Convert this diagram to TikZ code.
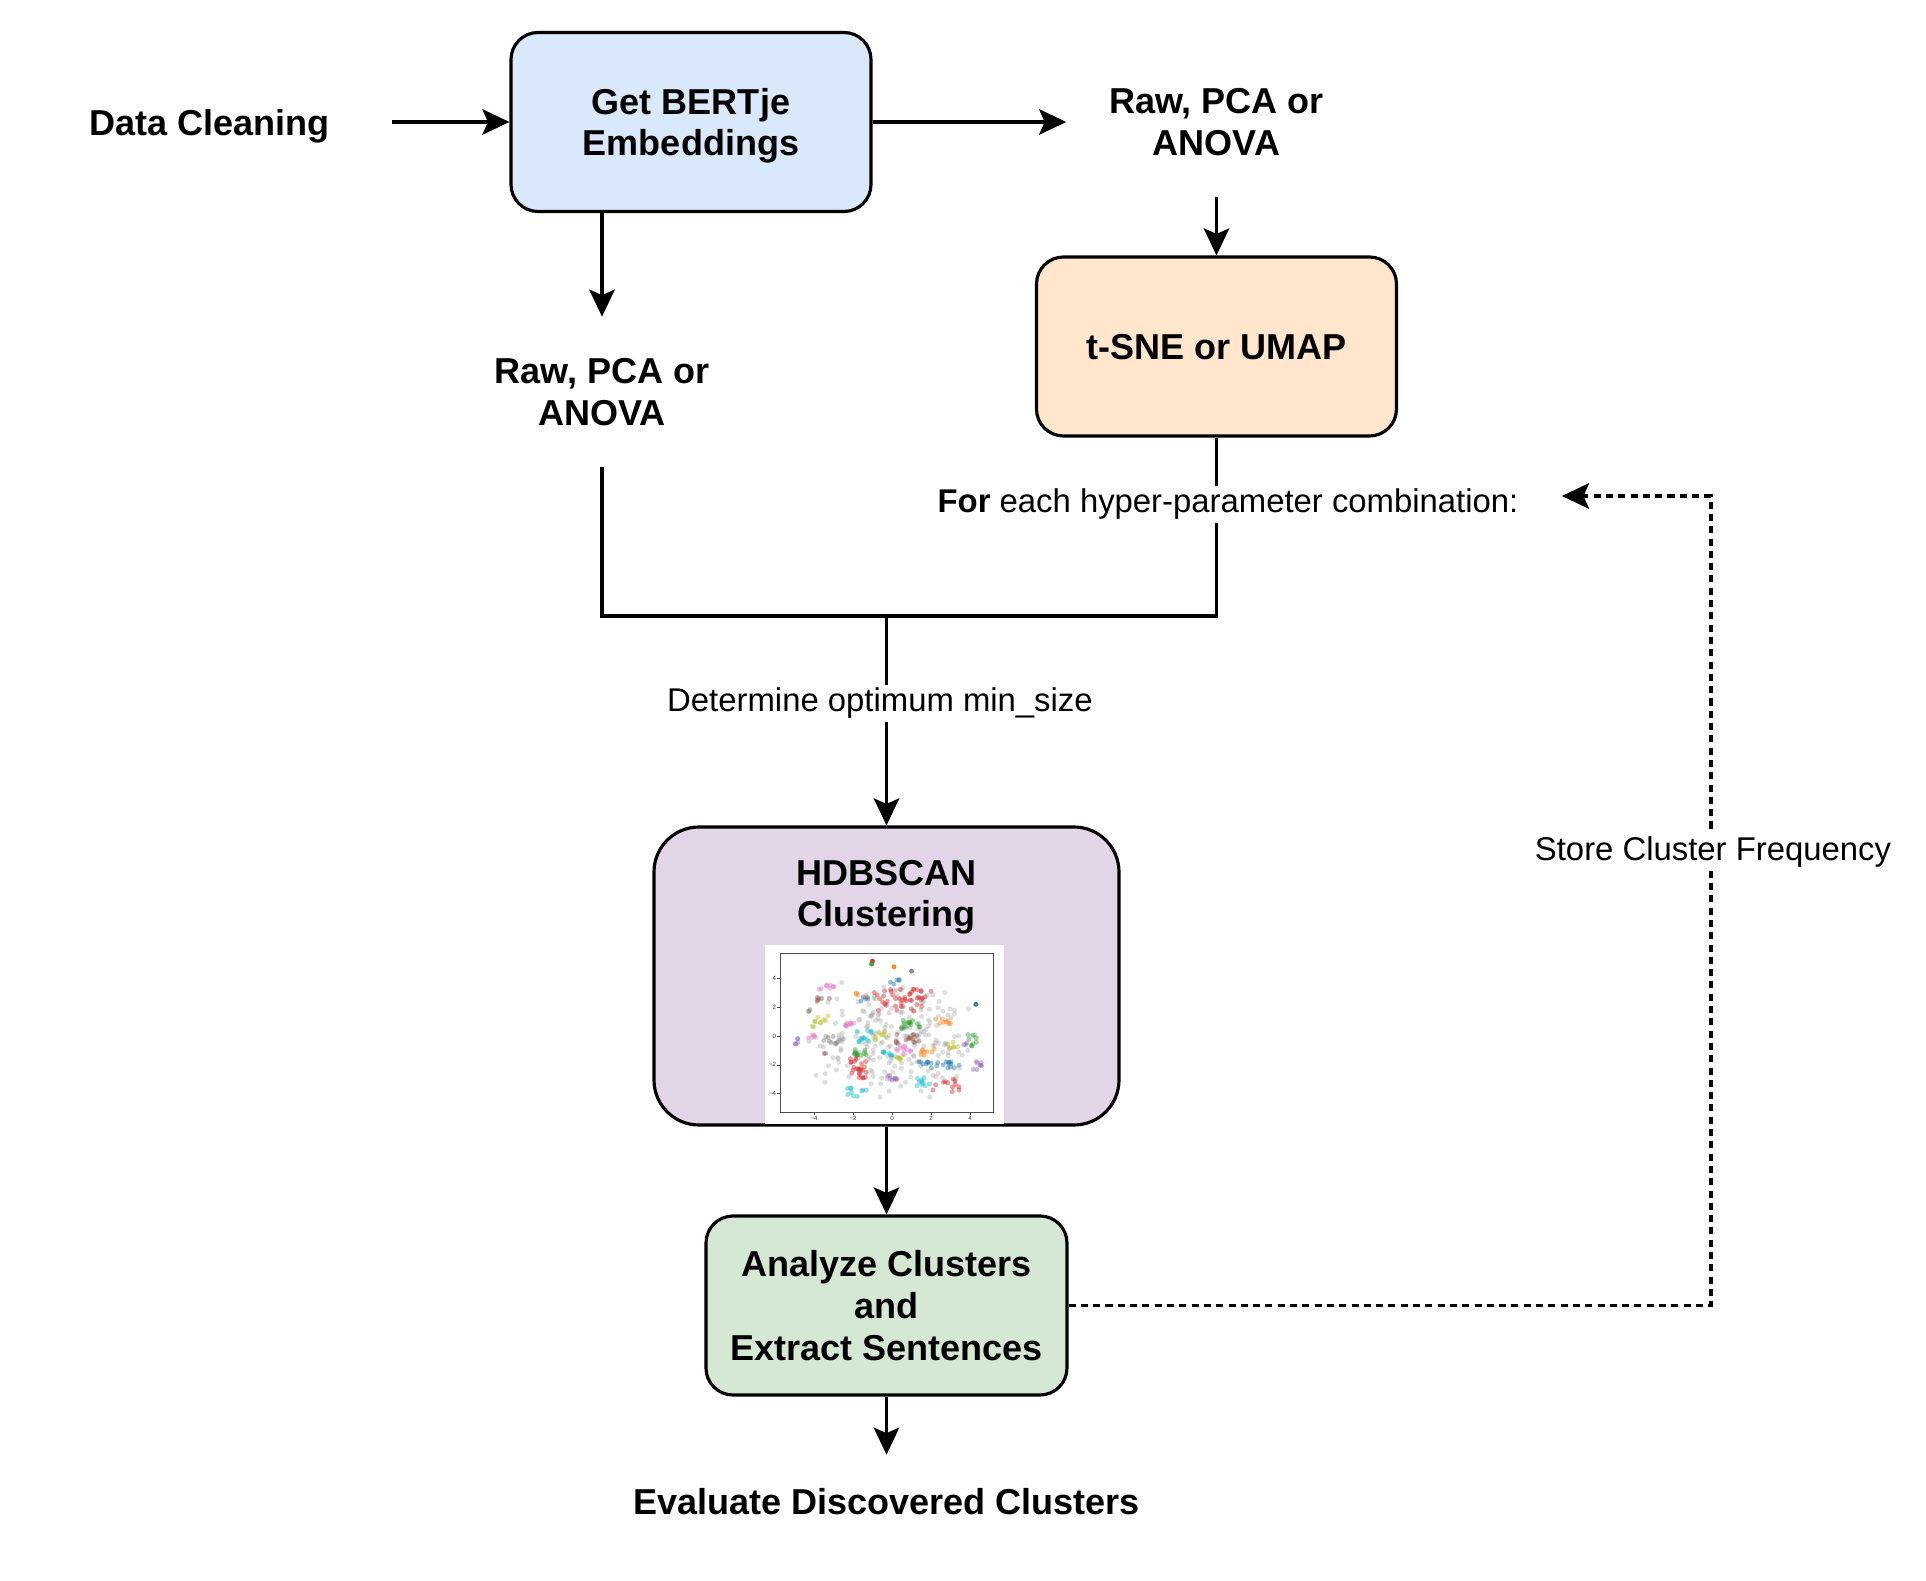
\documentclass[tikz,border=0pt]{standalone}
\usepackage{fontspec}
\setmainfont{Liberation Sans}
\usetikzlibrary{positioning,arrows.meta,calc}

\definecolor{bertfill}{HTML}{DAE8FC}
\definecolor{tsnefill}{HTML}{FFE6CC}
\definecolor{hdbfill}{HTML}{E1D5E7}
\definecolor{anafill}{HTML}{D5E8D4}
\definecolor{tabblue}{HTML}{1F77B4}
\definecolor{taborange}{HTML}{FF7F0E}
\definecolor{tabgreen}{HTML}{2CA02C}
\definecolor{tabred}{HTML}{D62728}
\definecolor{tabpurple}{HTML}{9467BD}
\definecolor{tabbrown}{HTML}{8C564B}
\definecolor{tabpink}{HTML}{E377C2}
\definecolor{tabgrey}{HTML}{7F7F7F}
\definecolor{tabolive}{HTML}{BCBD22}
\definecolor{tabcyan}{HTML}{17BECF}

\newcommand{\stagefont}{\fontsize{20.5}{23.8}\selectfont\bfseries}
\newcommand{\notefont}{\fontsize{18.7}{21.3}\selectfont}
\newcommand{\tickfont}{\fontsize{3.5}{4}\selectfont}
% last line of a node: ignore descenders when centring
\newcommand{\nodep}[1]{\raisebox{0pt}[\height][-2pt]{#1}}

\begin{document}
\begin{tikzpicture}[
    >={Stealth[length=5.4mm, width=5.1mm, inset=1.1mm]},
    stage/.style={
        draw=black,
        line width=1.8pt,
        rounded corners=0.54cm,
        minimum width=7.2cm,
        minimum height=3.58cm,
        align=center,
        font=\stagefont
    },
    stagetext/.style={align=center, font=\stagefont, minimum width=6cm, minimum height=3cm},
    flow/.style={->, line width=1.8pt},
    joinline/.style={line width=1.8pt},
    feedback/.style={->, line width=1.8pt, dash pattern=on 4pt off 3pt},
    edgelbl/.style={fill=white, font=\notefont, inner sep=2pt},
    scatterdot/.style={fill opacity=0.45}
]

% --- Canvas ---
\useasboundingbox (0,0) rectangle (38.52,-31.62);
\fill[white] (0,0) rectangle (38.52,-31.62);

% --- Column x-positions ---
\def\xLeft{12.04}
\def\xMid{17.73}
\def\xRight{24.33}

% --- Top row ---
\node[stagetext, minimum width=7.28cm] (datac) at (4.19, -2.44) {\nodep{Data Cleaning}};
\node[stage, fill=bertfill] (bert) at (13.82, -2.44) {Get BERTje\\\nodep{Embeddings}};
\node[stagetext] (rawR) at (\xRight, -2.44) {Raw, PCA or\\\nodep{ANOVA}};

% --- Reduction branches ---
\node[stage, fill=tsnefill] (tsne) at (\xRight, -6.93) {\nodep{t-SNE or UMAP}};
\node[stagetext] (rawL) at (\xLeft, -7.84) {Raw, PCA or\\\nodep{ANOVA}};

% --- Clustering ---
\node[stage, fill=hdbfill, rounded corners=0.9cm, minimum width=9.3cm, minimum height=5.96cm] (hdb) at (\xMid, -19.52) {};
\node[align=center, font=\stagefont] (hdbtxt) at (\xMid, -17.87) {HDBSCAN\\\nodep{Clustering}};
\node[stage, fill=anafill, minimum width=7.22cm] (analyze) at (\xMid, -26.11) {Analyze Clusters\\and\\\nodep{Extract Sentences}};
\node[align=center, font=\stagefont, minimum height=1.84cm] (eval) at (\xMid, -30.02) {\nodep{Evaluate Discovered Clusters}};

% --- Embedded scatter plot ---
\fill[white] (15.3, -18.9) rectangle (20.08, -22.47);
\begin{scope}[shift={(17.84,-20.72)}, x=0.39cm, y=0.288cm]
    \pgfmathsetseed{2024}
    % noise points
    \foreach \k in {1,...,220} {
        \pgfmathsetmacro\px{2.3*(rand+rand)}
        \pgfmathsetmacro\py{-0.3+2.1*(rand+rand)}
        \fill[tabgrey!75, fill opacity=0.35] (\px,\py) circle[radius=0.05cm];
    }
    % clusters
    \foreach \cx/\cy/\sx/\sy/\n/\col in {
        0.4/2.5/1.7/0.8/45/tabred, -1.75/-2.2/0.45/0.85/25/tabred, 2.8/-3.4/0.7/0.5/12/tabred,
        0.1/3.8/0.3/0.2/5/tabblue, -1.4/2.5/0.2/0.2/5/tabblue, 2.4/-2.0/1.1/0.3/20/tabblue,
        -1.6/2.9/0.3/0.1/4/taborange, 2.6/1.0/0.4/0.2/8/taborange, 1.8/-1.1/0.4/0.3/8/taborange,
        0.9/0.8/0.6/0.3/15/tabgreen, -1.6/-1.2/0.4/0.3/10/tabgreen, 4.2/-0.3/0.4/0.4/8/tabgreen,
        -5.0/-0.3/0.3/0.3/5/tabpurple, 4.4/-2.3/0.25/0.6/8/tabpurple, 0.0/-2.9/0.3/0.2/8/tabpurple, 3.8/-0.5/0.2/0.2/3/tabpurple,
        -3.4/2.5/0.5/0.2/6/tabbrown, 0.7/-0.2/0.7/0.3/15/tabbrown, -3.5/-1.2/0.1/0.1/2/tabbrown,
        -3.3/3.3/0.6/0.3/8/tabpink, -2.2/0.8/0.3/0.15/7/tabpink, -4.1/0.0/0.2/0.2/4/tabpink, 0.6/-1.0/0.4/0.3/10/tabpink,
        -3.6/1.0/0.5/0.4/10/tabolive, -0.6/0.0/0.3/0.3/8/tabolive, 3.1/-0.7/0.3/0.3/6/tabolive, 0.3/-1.6/0.2/0.2/5/tabolive,
        -1.4/0.0/0.4/0.4/12/tabcyan, -1.8/-3.9/0.5/0.3/10/tabcyan, 1.6/-3.1/0.6/0.4/10/tabcyan, -0.2/-1.2/0.3/0.2/8/tabcyan,
        -4.2/1.8/0.15/0.1/3/tabgrey, -3.0/-0.3/0.5/0.3/10/tabgrey} {
        \foreach \k in {1,...,\n} {
            \pgfmathsetmacro\px{\cx+\sx*rand}
            \pgfmathsetmacro\py{\cy+\sy*rand}
            \fill[\col, scatterdot] (\px,\py) circle[radius=0.05cm];
        }
    }
    % isolated points
    \foreach \px/\py/\col in {-1.0/5.2/tabred, -1.05/5.0/tabgreen, 0.1/4.8/taborange, 1.0/4.5/tabgrey, 4.3/2.2/tabblue}
        \fill[\col, fill opacity=0.9] (\px,\py) circle[radius=0.05cm];
    % axes
    \draw[black!70, line width=0.4pt] (-5.74,-5.28) rectangle (5.18,5.76);
    \foreach \t/\tl in {-4/−4, -2/−2, 0/0, 2/2, 4/4} {
        \draw[black!70, line width=0.3pt] (\t,-5.28) -- ++(0,-0.2)
            node[below, font=\tickfont, inner sep=0.5pt, text=black!80] {\tl};
        \draw[black!70, line width=0.3pt] (-5.74,\t) -- ++(-0.15,0)
            node[left, font=\tickfont, inner sep=0.5pt, text=black!80] {\tl};
    }
\end{scope}

% --- Connectors ---
\draw[flow] (datac.east) -- (bert.west);
\draw[flow] (bert.east) -- (rawR.west);
\draw[flow] (rawR.south) -- (tsne.north);
\draw[flow] (rawL.north |- bert.south) -- (rawL.north);

% merge of both branches
\coordinate (merge) at (\xMid, -12.32);
\draw[joinline] (rawL.south) |- (merge) -| (tsne.south);
\draw[flow] (merge) -- (hdb.north)
    node[edgelbl, pos=0.4, xshift=-0.13cm, yshift=-0.074cm] {Determine optimum min\_size};
\node[edgelbl] (loop) at (24.56, -10.09) {\textbf{For} each hyper-parameter combination:};

\draw[flow] (hdb.south) -- (analyze.north);
\draw[flow] (analyze.south) -- (eval.north);

% --- Feedback loop ---
\coordinate (turn) at (34.22, -9.92);
\coordinate (back) at (31.24, -9.92);
\draw[feedback] (analyze.east) -| (turn) -- (back);
\node[edgelbl] (store) at (34.26, -17.05) {Store Cluster Frequency};

\end{tikzpicture}
\end{document}
